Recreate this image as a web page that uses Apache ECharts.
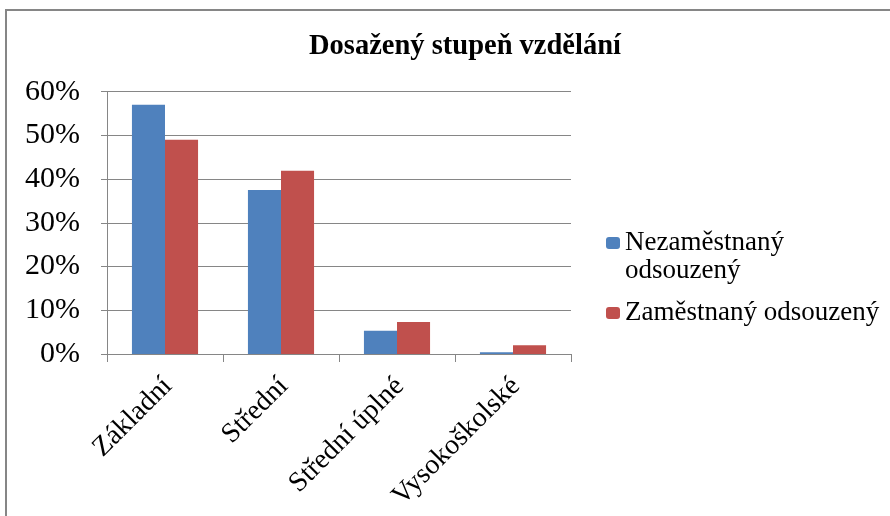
<!DOCTYPE html>
<html>
<head>
<meta charset="utf-8">
<script src="https://cdn.jsdelivr.net/npm/echarts@6/dist/echarts.min.js"></script>
<style>
html,body{margin:0;padding:0;background:#fff;}
#c{width:890px;height:516px;}
</style>
</head>
<body>
<div id="c"></div>
<script>
const categories = ['Základní', 'Střední', 'Střední úplné', 'Vysokoškolské'];
const seriesNames = ['Nezaměstnaný odsouzený', 'Zaměstnaný odsouzený'];
const unemployed = [57.0, 37.5, 5.3, 0.4];
const employed = [49.0, 41.9, 7.3, 2.0];
const yTicks = [0, 10, 20, 30, 40, 50, 60];

const FONT = '"Liberation Serif", "Times New Roman", serif';
const chart = echarts.init(document.getElementById('c'), null, {renderer: 'canvas'});
chart.setOption({
  animation: false,
  backgroundColor: '#fff',
  title: {
    text: 'Dosažený stupeň vzdělání',
    left: 309, top: 32, padding: 0,
    textStyle: {fontFamily: FONT, fontWeight: 'bold', fontSize: 28.5, color: '#000'}
  },
  graphic: [{
    type: 'rect', silent: true,
    shape: {x: 6, y: 10, width: 900, height: 520},
    style: {fill: 'none', stroke: '#868686', lineWidth: 2}
  }],
  legend: [{
    data: [seriesNames[0]],
    orient: 'vertical', left: 606, top: 201, padding: 0,
    itemWidth: 14, itemHeight: 12,
    formatter: function (n) { return '\n' + n.replace(' ', '\n'); },
    textStyle: {fontFamily: FONT, fontSize: 27, lineHeight: 28, color: '#000'}
  }, {
    data: [seriesNames[1]],
    orient: 'vertical', left: 606, top: 299, padding: 0,
    itemWidth: 14, itemHeight: 12,
    textStyle: {fontFamily: FONT, fontSize: 27, lineHeight: 28, color: '#000'}
  }],
  grid: {left: 107, right: 319, top: 91.7, bottom: 162, containLabel: false, outerBoundsMode: 'none'},
  xAxis: {
    type: 'category',
    data: categories,
    axisLine: {lineStyle: {color: '#868686', width: 1}},
    axisTick: {show: true, length: 8, lineStyle: {color: '#868686'}},
    axisLabel: {rotate: 45, margin: 11, verticalAlign: 'top', padding: [0, 10, 0, 0],
      fontFamily: FONT, fontSize: 28, color: '#000', interval: 0}
  },
  yAxis: {
    type: 'value', min: 0, max: 60, interval: 10,
    axisLine: {show: true, lineStyle: {color: '#868686', width: 1}},
    axisTick: {show: true, length: 6, lineStyle: {color: '#868686'}},
    splitLine: {lineStyle: {color: '#868686', width: 1}},
    axisLabel: {margin: 27, fontFamily: FONT, fontSize: 30, color: '#000',
      formatter: function (v) { return yTicks.indexOf(v) >= 0 ? v + '%' : ''; }}
  },
  series: [{
    name: seriesNames[0], type: 'bar', data: unemployed,
    barGap: '0%', barCategoryGap: '43%',
    itemStyle: {color: '#4F81BD'}
  }, {
    name: seriesNames[1], type: 'bar', data: employed,
    barGap: '0%', barCategoryGap: '43%',
    itemStyle: {color: '#C0504D'}
  }]
});
</script>
</body>
</html>
